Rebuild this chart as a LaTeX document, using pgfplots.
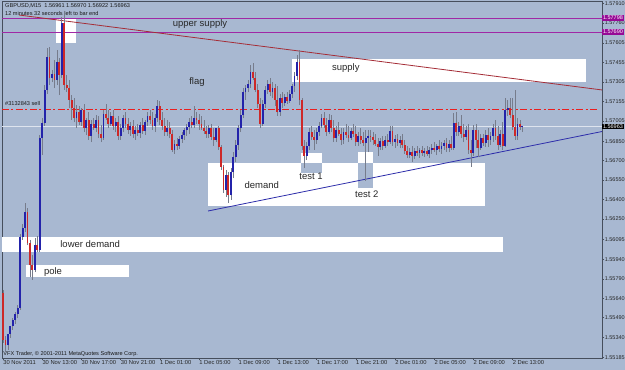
\documentclass[border=0pt]{standalone}
\usepackage{fontspec}
\setmainfont{Liberation Sans}
\usepackage{pgfplots}
\usepackage{pgfplotstable}
\pgfplotsset{compat=1.18}
\definecolor{bg}{RGB}{168,184,209}
\definecolor{axisc}{RGB}{70,78,92}
\definecolor{bull}{RGB}{35,35,170}
\definecolor{bear}{RGB}{205,40,40}
\definecolor{wick}{RGB}{118,124,140}
\definecolor{magline}{RGB}{160,40,165}
\definecolor{maglbl}{RGB}{150,10,150}
\definecolor{redtl}{RGB}{165,45,55}
\definecolor{bluetl}{RGB}{45,45,170}
\definecolor{ordred}{RGB}{235,30,30}
\definecolor{bidc}{RGB}{222,228,238}
\definecolor{annot}{RGB}{40,40,40}

\pgfplotstableread{
i O H L C
0 1.55681 1.55704 1.55296 1.55319
1 1.55319 1.55350 1.55226 1.55280
2 1.55280 1.55319 1.55242 1.55365
3 1.55365 1.55411 1.55334 1.55427
4 1.55427 1.55488 1.55396 1.55473
5 1.55473 1.55534 1.55442 1.55519
6 1.55519 1.55588 1.55488 1.55565
7 1.55565 1.56135 1.55550 1.56112
8 1.56112 1.56212 1.56089 1.56181
9 1.56181 1.56374 1.56150 1.56304
10 1.56304 1.56335 1.56050 1.56066
11 1.56066 1.56089 1.55804 1.55896
12 1.55896 1.55973 1.55781 1.55858
13 1.55858 1.56104 1.55842 1.56050
14 1.56050 1.56120 1.55996 1.56012
15 1.56012 1.56897 1.55996 1.56874
16 1.56874 1.57028 1.56743 1.56990
17 1.56990 1.57282 1.56967 1.57244
18 1.57244 1.57567 1.57213 1.57498
19 1.57498 1.57575 1.57282 1.57336
20 1.57336 1.57398 1.57305 1.57367
21 1.57367 1.57475 1.57259 1.57321
22 1.57321 1.57552 1.57282 1.57459
23 1.57459 1.57490 1.57205 1.57359
24 1.57359 1.57806 1.57336 1.57760
25 1.57760 1.57821 1.57244 1.57282
26 1.57282 1.57359 1.57228 1.57259
27 1.57259 1.57321 1.57105 1.57167
28 1.57167 1.57205 1.57013 1.57105
29 1.57105 1.57182 1.56997 1.57028
30 1.57028 1.57128 1.56951 1.57074
31 1.57074 1.57121 1.56974 1.56997
32 1.56997 1.57105 1.56967 1.57090
33 1.57090 1.57136 1.56920 1.56951
34 1.56951 1.57028 1.56897 1.57013
35 1.57013 1.57074 1.56859 1.56890
36 1.56890 1.57013 1.56843 1.56982
37 1.56982 1.57028 1.56936 1.56951
38 1.56951 1.57051 1.56920 1.57013
39 1.57013 1.57044 1.56874 1.56905
40 1.56905 1.56974 1.56843 1.56874
41 1.56874 1.57090 1.56859 1.57059
42 1.57059 1.57136 1.57013 1.57028
43 1.57028 1.57090 1.56951 1.56982
44 1.56982 1.57074 1.56967 1.57044
45 1.57044 1.57090 1.56936 1.56967
46 1.56967 1.57028 1.56920 1.56997
47 1.56997 1.57044 1.56859 1.56890
48 1.56890 1.56982 1.56859 1.56951
49 1.56951 1.57051 1.56920 1.57028
50 1.57028 1.57074 1.56951 1.56982
51 1.56982 1.57028 1.56905 1.56936
52 1.56936 1.56997 1.56890 1.56967
53 1.56967 1.57013 1.56874 1.56905
54 1.56905 1.56967 1.56859 1.56936
55 1.56936 1.56982 1.56890 1.56913
56 1.56913 1.56997 1.56874 1.56974
57 1.56974 1.57028 1.56905 1.56928
58 1.56928 1.57013 1.56897 1.56997
59 1.56997 1.57074 1.56967 1.57044
60 1.57044 1.57090 1.56982 1.57013
61 1.57013 1.57074 1.56936 1.56967
62 1.56967 1.57059 1.56920 1.57028
63 1.57028 1.57167 1.56997 1.57121
64 1.57121 1.57159 1.56974 1.57013
65 1.57013 1.57074 1.56936 1.56967
66 1.56967 1.57028 1.56890 1.56920
67 1.56920 1.57013 1.56890 1.56951
68 1.56951 1.56997 1.56874 1.56905
69 1.56905 1.56936 1.56766 1.56782
70 1.56782 1.56859 1.56751 1.56828
71 1.56828 1.56874 1.56782 1.56813
72 1.56813 1.56890 1.56789 1.56866
73 1.56866 1.56920 1.56836 1.56897
74 1.56897 1.56951 1.56859 1.56936
75 1.56936 1.56982 1.56890 1.56959
76 1.56959 1.57028 1.56905 1.56997
77 1.56997 1.57044 1.56951 1.56974
78 1.56974 1.57121 1.56951 1.57028
79 1.57028 1.57074 1.56982 1.57013
80 1.57013 1.57059 1.56936 1.56982
81 1.56982 1.57044 1.56936 1.56951
82 1.56951 1.57013 1.56905 1.56928
83 1.56928 1.56967 1.56874 1.56905
84 1.56905 1.56974 1.56874 1.56951
85 1.56951 1.56982 1.56859 1.56882
86 1.56882 1.56951 1.56813 1.56859
87 1.56859 1.56936 1.56843 1.56951
88 1.56951 1.56967 1.56782 1.56805
89 1.56805 1.56820 1.56628 1.56651
90 1.56651 1.56666 1.56451 1.56474
91 1.56474 1.56628 1.56420 1.56589
92 1.56589 1.56612 1.56374 1.56435
93 1.56435 1.56643 1.56397 1.56612
94 1.56612 1.56766 1.56566 1.56728
95 1.56728 1.56859 1.56689 1.56820
96 1.56820 1.56974 1.56782 1.56951
97 1.56951 1.57090 1.56920 1.57051
98 1.57051 1.57259 1.57028 1.57228
99 1.57228 1.57282 1.57167 1.57259
100 1.57259 1.57321 1.57228 1.57290
101 1.57290 1.57436 1.57259 1.57382
102 1.57382 1.57452 1.57321 1.57336
103 1.57336 1.57382 1.57228 1.57244
104 1.57244 1.57290 1.57105 1.57136
105 1.57136 1.57182 1.56951 1.56982
106 1.56982 1.57167 1.56967 1.57136
107 1.57136 1.57275 1.57105 1.57244
108 1.57244 1.57321 1.57213 1.57290
109 1.57290 1.57336 1.57198 1.57228
110 1.57228 1.57305 1.57182 1.57259
111 1.57259 1.57290 1.57121 1.57167
112 1.57167 1.57275 1.57044 1.57074
113 1.57074 1.57213 1.57044 1.57182
114 1.57182 1.57228 1.57105 1.57144
115 1.57144 1.57213 1.57121 1.57190
116 1.57190 1.57228 1.57136 1.57159
117 1.57159 1.57244 1.57144 1.57213
118 1.57213 1.57290 1.57182 1.57275
119 1.57275 1.57382 1.57228 1.57352
120 1.57352 1.57513 1.57321 1.57459
121 1.57459 1.57552 1.57128 1.57167
122 1.57167 1.57182 1.56782 1.56813
123 1.56813 1.56859 1.56643 1.56736
124 1.56736 1.56843 1.56705 1.56813
125 1.56813 1.56951 1.56782 1.56920
126 1.56920 1.56967 1.56859 1.56882
127 1.56882 1.56936 1.56782 1.56859
128 1.56859 1.56951 1.56828 1.56920
129 1.56920 1.56997 1.56890 1.56967
130 1.56967 1.57059 1.56951 1.57028
131 1.57028 1.57074 1.56951 1.56974
132 1.56974 1.57028 1.56890 1.56920
133 1.56920 1.57059 1.56905 1.57013
134 1.57013 1.57051 1.56920 1.56951
135 1.56951 1.57013 1.56843 1.56874
136 1.56874 1.56967 1.56843 1.56936
137 1.56936 1.56997 1.56890 1.56905
138 1.56905 1.56951 1.56820 1.56859
139 1.56859 1.56951 1.56828 1.56920
140 1.56920 1.56982 1.56874 1.56897
141 1.56897 1.56967 1.56843 1.56874
142 1.56874 1.56951 1.56859 1.56928
143 1.56928 1.56982 1.56882 1.56905
144 1.56905 1.56967 1.56813 1.56843
145 1.56843 1.56920 1.56813 1.56890
146 1.56890 1.56951 1.56828 1.56859
147 1.56859 1.56920 1.56813 1.56836
148 1.56836 1.56936 1.56543 1.56874
149 1.56874 1.56936 1.56766 1.56890
150 1.56890 1.56936 1.56843 1.56882
151 1.56882 1.56920 1.56820 1.56859
152 1.56859 1.56905 1.56813 1.56828
153 1.56828 1.56874 1.56736 1.56805
154 1.56805 1.56874 1.56782 1.56851
155 1.56851 1.56890 1.56782 1.56813
156 1.56813 1.56890 1.56797 1.56859
157 1.56859 1.56905 1.56813 1.56843
158 1.56843 1.56967 1.56828 1.56928
159 1.56928 1.56967 1.56813 1.56843
160 1.56843 1.56897 1.56797 1.56866
161 1.56866 1.56905 1.56813 1.56836
162 1.56836 1.56890 1.56797 1.56859
163 1.56859 1.56905 1.56797 1.56820
164 1.56820 1.56859 1.56751 1.56774
165 1.56774 1.56813 1.56720 1.56743
166 1.56743 1.56797 1.56720 1.56766
167 1.56766 1.56813 1.56689 1.56736
168 1.56736 1.56797 1.56712 1.56774
169 1.56774 1.56813 1.56736 1.56759
170 1.56759 1.56797 1.56720 1.56782
171 1.56782 1.56813 1.56736 1.56759
172 1.56759 1.56797 1.56728 1.56774
173 1.56774 1.56813 1.56736 1.56751
174 1.56751 1.56805 1.56720 1.56782
175 1.56782 1.56828 1.56751 1.56797
176 1.56797 1.56843 1.56766 1.56782
177 1.56782 1.56828 1.56743 1.56813
178 1.56813 1.56859 1.56766 1.56789
179 1.56789 1.56843 1.56751 1.56813
180 1.56813 1.56859 1.56782 1.56836
181 1.56836 1.56874 1.56766 1.56797
182 1.56797 1.56859 1.56766 1.56828
183 1.56828 1.56890 1.56782 1.56797
184 1.56797 1.57067 1.56782 1.56990
185 1.56990 1.57074 1.56890 1.56920
186 1.56920 1.56997 1.56890 1.56967
187 1.56967 1.57051 1.56874 1.56905
188 1.56905 1.56982 1.56843 1.56882
189 1.56882 1.56967 1.56859 1.56936
190 1.56936 1.56982 1.56751 1.56782
191 1.56782 1.56859 1.56651 1.56759
192 1.56759 1.56974 1.56736 1.56936
193 1.56936 1.56982 1.56797 1.56859
194 1.56859 1.56936 1.56728 1.56797
195 1.56797 1.56905 1.56782 1.56874
196 1.56874 1.56905 1.56813 1.56836
197 1.56836 1.56936 1.56805 1.56897
198 1.56897 1.56951 1.56805 1.56859
199 1.56859 1.56920 1.56820 1.56890
200 1.56890 1.56982 1.56843 1.56951
201 1.56951 1.57013 1.56859 1.56890
202 1.56890 1.56967 1.56782 1.56820
203 1.56820 1.56936 1.56805 1.56905
204 1.56905 1.56997 1.56782 1.56813
205 1.56813 1.57182 1.56805 1.57090
206 1.57090 1.57167 1.57044 1.57105
207 1.57105 1.57182 1.57028 1.57051
208 1.57051 1.57182 1.56936 1.56959
209 1.56959 1.57244 1.56859 1.56890
210 1.56890 1.57028 1.56859 1.56982
211 1.56982 1.57013 1.56936 1.56959
212 1.56961 1.56970 1.56922 1.56963
}\candles

\begin{document}
\begin{tikzpicture}
\fill[bg] (-2pt,-12pt) rectangle (623pt,358pt);
\begin{axis}[
  at={(0,0)}, anchor=south west,
  scale only axis, width=600pt, height=357pt,
  xmin=-0.41, xmax=244.49, ymin=1.55180, ymax=1.57929,
  clip=false,
  axis line style={draw=axisc, line width=0.8pt},
  tick align=outside, major tick length=2pt,
  tick style={draw=axisc, line width=0.5pt},
  ytick pos=right, yticklabel pos=right,
  ytick={1.57910,1.57760,1.57605,1.57455,1.57305,1.57155,1.57005,1.56850,1.56700,1.56550,1.56400,1.56250,1.56095,1.55940,1.55790,1.55640,1.55490,1.55340,1.55185},
  yticklabels={1.57910,1.57760,1.57605,1.57455,1.57305,1.57155,1.57005,1.56850,1.56700,1.56550,1.56400,1.56250,1.56095,1.55940,1.55790,1.55640,1.55490,1.55340,1.55185},
  yticklabel style={anchor=west, font=\fontsize{5.5}{6}\selectfont, text=black!85, inner sep=0.6pt},
  xtick pos=bottom,
  xtick={0,16,32,48,64,80,96,112,128,144,160,176,192,208},
  xticklabels={30 Nov 2011,30 Nov 13:00,30 Nov 17:00,30 Nov 21:00,1 Dec 01:00,1 Dec 05:00,1 Dec 09:00,1 Dec 13:00,1 Dec 17:00,1 Dec 21:00,2 Dec 01:00,2 Dec 05:00,2 Dec 09:00,2 Dec 13:00},
  xticklabel style={anchor=north west, font=\fontsize{5.8}{6}\selectfont, text=black!85, inner sep=0.6pt, xshift=-0.5pt},
]
% zones
\addplot[fill=white, draw=none, forget plot] coordinates {(21.6,1.57606) (29.8,1.57606) (29.8,1.57798) (21.6,1.57798)};
\addplot[fill=white, draw=none, forget plot] coordinates {(117.8,1.57305) (238,1.57305) (238,1.57482) (117.8,1.57482)};
\addplot[fill=white, draw=none, forget plot] coordinates {(83.7,1.56350) (196.7,1.56350) (196.7,1.56682) (83.7,1.56682)};
\addplot[fill=white, draw=none, forget plot] coordinates {(121.6,1.56682) (130.2,1.56682) (130.2,1.56759) (121.6,1.56759)};
\addplot[fill=bg, draw=none, forget plot] coordinates {(121.6,1.56605) (130.2,1.56605) (130.2,1.56682) (121.6,1.56682)};
\addplot[fill=white, draw=none, forget plot] coordinates {(144.9,1.56682) (151,1.56682) (151,1.56766) (144.9,1.56766)};
\addplot[fill=bg, draw=none, forget plot] coordinates {(144.9,1.56489) (151,1.56489) (151,1.56682) (144.9,1.56682)};
\addplot[fill=white, draw=none, forget plot] coordinates {(-0.41,1.55996) (204.1,1.55996) (204.1,1.56112) (-0.41,1.56112)};
\addplot[fill=white, draw=none, forget plot] coordinates {(9.4,1.55804) (51.4,1.55804) (51.4,1.55896) (9.4,1.55896)};
% horizontal lines
\addplot[magline, line width=0.9pt, forget plot] coordinates {(-0.41,1.57798) (244.49,1.57798)};
\addplot[magline, line width=0.9pt, forget plot] coordinates {(-0.41,1.57690) (244.49,1.57690)};
\addplot[bidc, line width=0.9pt, forget plot] coordinates {(-0.41,1.56963) (244.49,1.56963)};
\addplot[color=ordred, line width=1pt, dash pattern=on 7pt off 2.5pt on 2pt off 2.5pt, forget plot] coordinates {(-0.41,1.57094) (242.4,1.57094)};
% trend lines
\addplot[redtl, line width=0.8pt, forget plot] coordinates {(6.53,1.57821) (244.49,1.57244)};
\addplot[bluetl, line width=0.8pt, forget plot] coordinates {(83.7,1.56312) (244.49,1.56924)};
% candles: wicks
\addplot[draw=none, mark=none, forget plot,
  error bars/.cd, y dir=plus, y explicit, error mark=none,
  error bar style={line width=0.7pt, draw=wick}]
  table[x=i, y=L, y error expr=\thisrow{H}-\thisrow{L}] {\candles};
% bull bodies
\addplot[draw=none, mark=none, forget plot,
  restrict expr to domain={\thisrow{C}-\thisrow{O}}{0:1},
  error bars/.cd, y dir=plus, y explicit, error mark=none,
  error bar style={line width=1.85pt, draw=bull}]
  table[x=i, y=O, y error expr=\thisrow{C}-\thisrow{O}] {\candles};
% bear bodies
\addplot[draw=none, mark=none, forget plot,
  restrict expr to domain={\thisrow{O}-\thisrow{C}}{0.000001:1},
  error bars/.cd, y dir=plus, y explicit, error mark=none,
  error bar style={line width=1.85pt, draw=bear}]
  table[x=i, y=C, y error expr=\thisrow{O}-\thisrow{C}] {\candles};
% price labels on the scale
\node[fill=maglbl, text=white, anchor=west, font=\fontsize{5.5}{6}\selectfont, inner xsep=0.8pt, inner ysep=0.7pt] at (axis cs:244.49,1.57798) {1.57798};
\node[fill=maglbl, text=white, anchor=west, font=\fontsize{5.5}{6}\selectfont, inner xsep=0.8pt, inner ysep=0.7pt] at (axis cs:244.49,1.57690) {1.57690};
\node[fill=black, text=white, anchor=west, font=\fontsize{5.5}{6}\selectfont, inner xsep=0.8pt, inner ysep=0.7pt] at (axis cs:244.49,1.56963) {1.56963};
% annotations
\begin{scope}[every node/.style={font=\fontsize{9.5}{11}\selectfont, text=annot, inner sep=0pt}]
\node at (rel axis cs:0.330,0.936) {upper supply};
\node at (rel axis cs:0.325,0.773) {flag};
\node at (rel axis cs:0.573,0.812) {supply};
\node at (rel axis cs:0.433,0.485) {demand};
\node at (rel axis cs:0.515,0.510) {test 1};
\node at (rel axis cs:0.608,0.459) {test 2};
\node at (rel axis cs:0.147,0.319) {lower demand};
\node at (rel axis cs:0.085,0.241) {pole};
\end{scope}
\begin{scope}[every node/.style={font=\fontsize{5.6}{6}\selectfont, text=black!90, inner sep=0pt, anchor=west}]
\node at (rel axis cs:0.005,0.986) {GBPUSD,M15\ \ 1.56961 1.56970 1.56922 1.56963};
\node at (rel axis cs:0.005,0.966) {12 minutes 32 seconds left to bar end};
\node at (rel axis cs:0.005,0.712) {\#3132843 sell};
\node at (rel axis cs:0.002,0.010) {VFX Trader, © 2001-2011 MetaQuotes Software Corp.};
\end{scope}
\end{axis}
\pgfresetboundingbox
\path[use as bounding box] (-2pt,-12pt) rectangle (623pt,358pt);
\end{tikzpicture}
\end{document}
